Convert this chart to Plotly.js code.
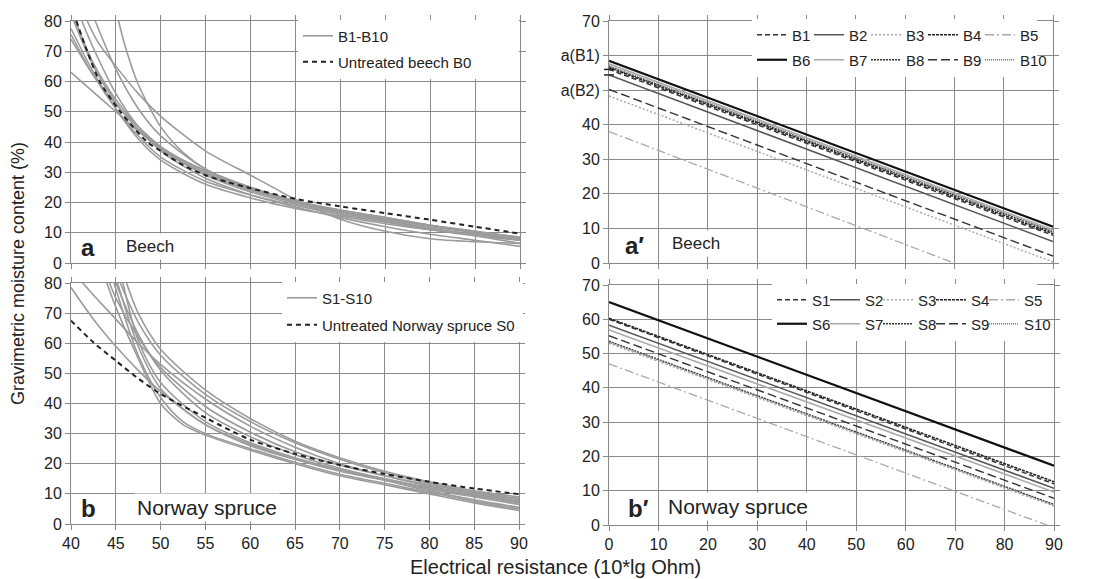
<!DOCTYPE html>
<html><head><meta charset="utf-8">
<script src="https://cdn.plot.ly/plotly-3.0.1.min.js"></script>
<style>html,body{margin:0;padding:0;background:#fff;}#chart{width:1094px;height:579px;}</style>
</head><body><div id="chart"></div>
<script>
// ---------- Panel a: Beech curves (x = electrical resistance, y = moisture content) ----------
const beechCurve1  = [[40,63],[42.5,56.5],[45,50],[47.5,43.5],[50,38],[55,30.5],[60,25],[65,20.5],[70,17],[75,14],[80,11.5],[85,9],[90,6.5]];
const beechCurve2  = [[40,74],[42.5,62],[45,52.5],[47.5,45],[50,38.5],[55,30],[60,24.5],[65,20],[70,17],[75,14.5],[80,12],[85,10],[90,8]];
const beechCurve3  = [[40,75.5],[42.5,62],[45,51],[47.5,42],[50,35],[55,27],[60,22.5],[65,19],[70,16],[75,13.5],[80,11],[85,9],[90,7.5]];
const beechCurve4  = [[40,77.5],[42.5,63],[45,51],[47.5,41],[50,34],[55,26],[60,21.5],[65,18],[70,15.5],[75,13],[80,11],[85,9.5],[90,8]];
const beechCurve5  = [[40.5,80],[42.5,66],[45,54],[47.5,45],[50,38],[55,29.5],[60,24],[65,20],[70,17],[75,14.5],[80,12.5],[85,10.5],[90,8.5]];
const beechCurve6  = [[41.2,80],[42.5,71],[45,56],[47.5,45],[50,37],[55,28],[60,22.5],[65,18.5],[70,15],[75,12],[80,9.5],[85,7.5],[90,5.5]];
const beechCurve7  = [[41.8,80],[43,73],[45,65],[47.5,56],[50,48.5],[55,37],[60,29],[62.5,25],[65,21],[70,14.5],[75,10.5],[80,8],[85,7],[90,6.5]];
const beechCurve8  = [[45.3,80],[46,72],[47.5,59],[50,45],[52.5,36.5],[55,31],[60,24.5],[65,20.5],[70,17.5],[75,15],[80,12.5],[85,10],[90,7.5]];
const beechCurve9  = [[42.7,80],[45,64],[47.5,51],[50,42],[55,31],[60,25],[65,20.5],[70,17.5],[75,15],[80,12.5],[85,10.5],[90,8.5]];
const beechCurve10 = [[40.3,80],[42.5,65],[45,53],[47.5,44],[50,37.5],[55,29],[60,23.5],[65,19.5],[70,16.5],[75,14],[80,11.5],[85,9.5],[90,7.5]];
const beechB0      = [[40.6,80],[41.8,70],[43.2,60],[45.5,50],[48.5,40],[50,37],[52.5,32.3],[55,29],[57.5,26.7],[60,24.7],[65,21.2],[70,18.7],[75,16.5],[80,14.3],[85,12],[90,9.7]];

// ---------- Panel b: Norway spruce curves ----------
const spruceCurve1  = [[40,78.5],[42.5,68],[45,59],[47.5,51],[50,44],[55,33],[60,26],[65,21.5],[70,18],[75,15],[80,12],[85,9.5],[90,7]];
const spruceCurve2  = [[41.3,80],[42.5,76],[45,68],[47.5,60],[50,53],[55,41.5],[60,32.5],[65,25.5],[70,20],[75,16],[80,12.5],[85,10],[90,7.5]];
const spruceCurve3  = [[44.3,80],[45,75],[47.5,62],[50,52],[55,39],[60,30.5],[65,24],[70,19.5],[75,16],[80,13],[85,10.5],[90,8.5]];
const spruceCurve4  = [[45,80],[47.5,63],[50,51],[55,37],[60,29],[65,23],[70,18.5],[75,15],[80,12],[85,9.5],[90,7.5]];
const spruceCurve5  = [[45.5,80],[47.5,67],[50,56],[55,43],[60,34],[65,27],[70,21.5],[75,17],[80,13.5],[85,10.5],[90,8]];
const spruceCurve6  = [[45.2,80],[47.5,59],[50,45],[55,33],[60,26.5],[65,21.5],[70,17.5],[75,14.5],[80,11.5],[85,9],[90,6.5]];
const spruceCurve7  = [[45.8,80],[47.5,61],[50,47],[55,34],[60,27],[65,22],[70,18],[75,14.5],[80,11],[85,8],[90,5.5]];
const spruceCurve8  = [[44.8,80],[47.5,56],[50,42],[52.5,34],[55,30],[60,25],[65,20.5],[70,16.5],[75,13.5],[80,10.5],[85,7.5],[90,5]];
const spruceCurve9  = [[46.2,80],[47.5,70],[50,58],[55,44.5],[60,35],[65,27.5],[70,22],[75,17.5],[80,14],[85,11],[90,9]];
const spruceCurve10 = [[44,80],[45,72],[47.5,55],[50,40],[52.5,33],[55,29.5],[60,24.5],[65,20],[70,16],[75,13],[80,10],[85,7],[90,4.5]];
const spruceS0      = [[40,67.5],[42.5,60.3],[45,54.2],[47.5,48.3],[50,43.2],[55,35.3],[60,28],[65,23.3],[70,19.6],[75,16.6],[80,14],[85,11.8],[90,9.9]];

// ---------- Panels a' and b': linear fits, values at x = 0 and x = 90 ----------
const linearX      = [0, 90];
const beechNames   = ['B1','B2','B3','B4','B5','B6','B7','B8','B9','B10'];
const beechAt0     = [56.0, 54.4, 48.3, 56.5, 38.0, 58.5, 57.6, 56.8, 50.2, 57.1];
const beechAt90    = [ 8.0,  6.2,  0.3,  8.5, -10.9, 10.5, 9.6, 9.0, 2.0, 9.2];
const spruceNames  = ['S1','S2','S3','S4','S5','S6','S7','S8','S9','S10'];
const spruceAt0    = [60.0, 58.3, 53.0, 60.3, 47.0, 65.0, 56.9, 53.6, 55.2, 53.3];
const spruceAt90   = [12.0, 10.7,  5.5, 12.6, -0.8, 17.3,  9.6,  6.0,  7.8,  5.8];
const aPrimeTickVals = [0,10,20,30,40,50,60,70];
const aPrimeTickText = ['0','10','20','30','40','a(B2)','a(B1)','70'];

// ---------- styles ----------
const seriesStyles = [
  {color:'#333', dash:'5px,3px', width:1.5},
  {color:'#555', dash:'solid', width:1.5},
  {color:'#aaa', dash:'2px,2px', width:1.5},
  {color:'#222', dash:'3px,1px', width:1.6},
  {color:'#aaa', dash:'9px,3px,2px,3px', width:1.3},
  {color:'#111', dash:'solid', width:2.2},
  {color:'#aaa', dash:'solid', width:1.6},
  {color:'#333', dash:'2px,1px', width:1.3},
  {color:'#333', dash:'9px,4px', width:1.4},
  {color:'#777', dash:'1px,1px', width:1.3}
];

const traces = [];
const px = p => p.map(d => d[0]);
const py = p => p.map(d => d[1]);
const curveLine = {color:'#9b9b9b', width:1.6, shape:'spline', smoothing:0.8};
const dashLine = {color:'#222', width:2, dash:'5px,4px', shape:'spline', smoothing:0.8};

[beechCurve1,beechCurve2,beechCurve3,beechCurve4,beechCurve5,beechCurve6,beechCurve7,beechCurve8,beechCurve9,beechCurve10].forEach((c,i)=>{
  traces.push({type:'scatter', mode:'lines', x:px(c), y:py(c), xaxis:'x', yaxis:'y', line:curveLine,
    name:'B1-B10', legend:'legend', showlegend:i===0, hoverinfo:'skip'});
});
traces.push({type:'scatter', mode:'lines', x:px(beechB0), y:py(beechB0), xaxis:'x', yaxis:'y', line:dashLine,
  name:'Untreated beech B0', legend:'legend7', hoverinfo:'skip'});

[spruceCurve1,spruceCurve2,spruceCurve3,spruceCurve4,spruceCurve5,spruceCurve6,spruceCurve7,spruceCurve8,spruceCurve9,spruceCurve10].forEach((c,i)=>{
  traces.push({type:'scatter', mode:'lines', x:px(c), y:py(c), xaxis:'x3', yaxis:'y3', line:curveLine,
    name:'S1-S10', legend:'legend6', showlegend:i===0, hoverinfo:'skip'});
});
traces.push({type:'scatter', mode:'lines', x:px(spruceS0), y:py(spruceS0), xaxis:'x3', yaxis:'y3', line:dashLine,
  name:'Untreated Norway spruce S0', legend:'legend8', hoverinfo:'skip'});

beechNames.forEach((n,i)=>{
  traces.push({type:'scatter', mode:'lines', x:linearX, y:[beechAt0[i], beechAt90[i]], xaxis:'x2', yaxis:'y2',
    line:seriesStyles[i], name:n, legend: i<5 ? 'legend2' : 'legend3', hoverinfo:'skip'});
});
spruceNames.forEach((n,i)=>{
  traces.push({type:'scatter', mode:'lines', x:linearX, y:[spruceAt0[i], spruceAt90[i]], xaxis:'x4', yaxis:'y4',
    line:seriesStyles[i], name:n, legend: i<5 ? 'legend4' : 'legend5', hoverinfo:'skip'});
});

const W = 1094, H = 579;
const axisBase = {showgrid:true, gridcolor:'#8a8a8a', gridwidth:1, showline:true, linecolor:'#888', linewidth:1,
  mirror:'ticks', ticks:'outside', ticklen:5, tickcolor:'#888', zeroline:false, fixedrange:true,
  tickfont:{size:16, color:'#222'}};
const dom = (a,b) => [a/W, b/W];
const vdom = (top,bottom) => [1-bottom/H, 1-top/H];

const yA = vdom(21,263), yB = vdom(283,524), yAp = vdom(21,263), yBp = vdom(285,525);
const xA = dom(71,520), xB = dom(71,519), xAp = dom(609,1053), xBp = dom(609,1054);

const legBase = {bgcolor:'#fff', borderwidth:0, font:{size:15, color:'#222'}, itemwidth:30};
const rowLeg = (x,yc,ew) => Object.assign({}, legBase, {orientation:'h', x:x, y:yc, xanchor:'left', yanchor:'middle', entrywidth:ew, entrywidthmode:'pixels'});

const intercept = v => yAp[0] + v/70*(yAp[1]-yAp[0]);

const layout = {
  width:W, height:H, margin:{l:0,r:0,t:0,b:0}, paper_bgcolor:'#fff', plot_bgcolor:'#fff',
  font:{family:'"Liberation Sans", Arial, sans-serif', size:16, color:'#222'},
  showlegend:true,
  xaxis: Object.assign({}, axisBase, {domain:xA, range:[40,90], dtick:5, showticklabels:false, anchor:'y'}),
  yaxis: Object.assign({}, axisBase, {domain:yA, range:[0,80], dtick:10, anchor:'x'}),
  xaxis2: Object.assign({}, axisBase, {domain:xAp, range:[0,90], dtick:10, showticklabels:false, anchor:'y2'}),
  yaxis2: Object.assign({}, axisBase, {domain:yAp, range:[0,70], tickvals:aPrimeTickVals, ticktext:aPrimeTickText, anchor:'x2'}),
  xaxis3: Object.assign({}, axisBase, {domain:xB, range:[40,90], dtick:5, anchor:'y3'}),
  yaxis3: Object.assign({}, axisBase, {domain:yB, range:[0,80], dtick:10, anchor:'x3'}),
  xaxis4: Object.assign({}, axisBase, {domain:xBp, range:[0,90], dtick:10, anchor:'y4'}),
  yaxis4: Object.assign({}, axisBase, {domain:yBp, range:[0,70], dtick:10, anchor:'x4'}),
  legend:  rowLeg(298/W, 1-36/H, 176),
  legend7: rowLeg(298/W, 1-62/H, 176),
  legend6: rowLeg(282/W, 1-298/H, 196),
  legend8: rowLeg(282/W, 1-325/H, 196),
  legend2: rowLeg(752/W, 1-35/H, 12),
  legend3: rowLeg(752/W, 1-60/H, 12),
  legend4: rowLeg(772/W, 1-300/H, 8),
  legend5: rowLeg(772/W, 1-324/H, 8),
  shapes: [
    {type:'line', xref:'paper', yref:'paper', x0:(609-5)/W, x1:(609+5)/W, y0:intercept(beechAt0[0]), y1:intercept(beechAt0[0]), line:{color:'#222', width:1.5}},
    {type:'line', xref:'paper', yref:'paper', x0:(609-5)/W, x1:(609+5)/W, y0:intercept(beechAt0[1]), y1:intercept(beechAt0[1]), line:{color:'#222', width:1.5}}
  ],
  annotations: [
    {text:'<b>a</b>', xref:'x', yref:'y', x:41.9, y:5, showarrow:false, font:{size:24, color:'#222'}},
    {text:'Beech', xref:'x', yref:'y', x:48.85, y:5.5, showarrow:false, font:{size:17, color:'#222'}, bgcolor:'#fff', borderpad:3},
    {text:'<b>b</b>', xref:'x3', yref:'y3', x:41.95, y:5, showarrow:false, font:{size:24, color:'#222'}},
    {text:'Norway spruce', xref:'x3', yref:'y3', x:55.2, y:5.5, showarrow:false, font:{size:21, color:'#222'}, bgcolor:'#fff', borderpad:2},
    {text:'<b>a\u2032</b>', xref:'x2', yref:'y2', x:5.2, y:5.2, showarrow:false, font:{size:24, color:'#222'}},
    {text:'Beech', xref:'x2', yref:'y2', x:17.6, y:5.5, showarrow:false, font:{size:17, color:'#222'}, bgcolor:'#fff', borderpad:3},
    {text:'<b>b\u2032</b>', xref:'x4', yref:'y4', x:5.9, y:4.8, showarrow:false, font:{size:24, color:'#222'}},
    {text:'Norway spruce', xref:'x4', yref:'y4', x:26.0, y:5.3, showarrow:false, font:{size:21, color:'#222'}, bgcolor:'#fff', borderpad:2},
    {text:'Gravimetric moisture content (%)', xref:'paper', yref:'paper', x:18/W, y:1-274/H, xanchor:'center', yanchor:'middle', textangle:-90, showarrow:false, font:{size:18, color:'#222'}},
    {text:'Electrical resistance (10*lg Ohm)', xref:'paper', yref:'paper', x:555/W, y:1-567/H, xanchor:'center', yanchor:'middle', showarrow:false, font:{size:20, color:'#222'}}
  ]
};

Plotly.newPlot('chart', traces, layout, {staticPlot:true, displayModeBar:false}).then(gd => {
  gd.querySelectorAll('g.scrollbox').forEach(el => { el.removeAttribute('clip-path'); el.style.clipPath = 'none'; });
});
</script></body></html>
